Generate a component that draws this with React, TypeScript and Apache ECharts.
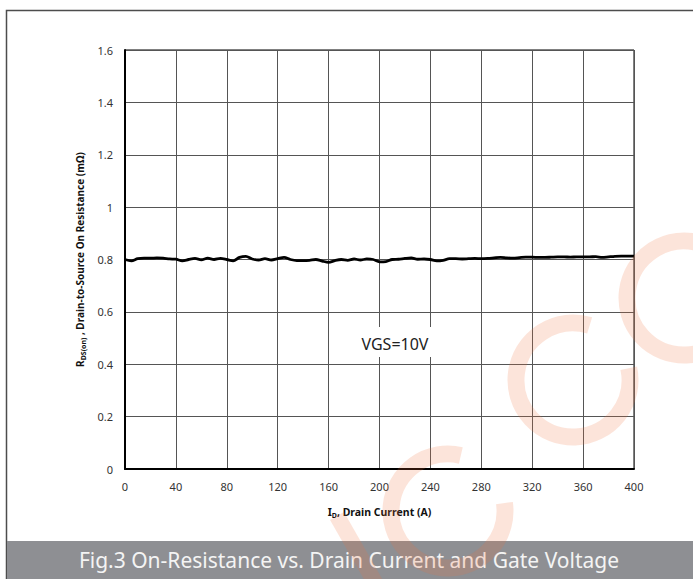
import React, { useEffect, useRef } from "react";
import * as echarts from "echarts";

const currents = [
  0, 5, 10, 15, 20, 25, 30, 35, 40, 45, 50, 55, 60, 65, 70, 75, 80, 85, 90, 95,
  100, 105, 110, 115, 120, 125, 130, 135, 140, 145, 150, 155, 160, 165, 170, 175,
  180, 185, 190, 195, 200, 205, 210, 215, 220, 225, 230, 235, 240, 245, 250, 255,
  260, 265, 270, 275, 280, 285, 290, 295, 300, 305, 310, 315, 320, 325, 330, 335,
  340, 345, 350, 355, 360, 365, 370, 375, 380, 385, 390, 395, 400,
];
const resistance = [
  0.8, 0.795, 0.803, 0.805, 0.805, 0.806, 0.805, 0.802, 0.801, 0.795, 0.8, 0.804,
  0.799, 0.805, 0.8, 0.804, 0.8, 0.795, 0.808, 0.812, 0.802, 0.798, 0.803, 0.798,
  0.803, 0.808, 0.8, 0.796, 0.796, 0.797, 0.8, 0.794, 0.789, 0.796, 0.8, 0.797,
  0.802, 0.798, 0.802, 0.8, 0.791, 0.792, 0.8, 0.801, 0.804, 0.806, 0.801, 0.802,
  0.8, 0.795, 0.797, 0.803, 0.803, 0.802, 0.803, 0.804, 0.803, 0.804, 0.806, 0.808,
  0.806, 0.805, 0.807, 0.809, 0.809, 0.808, 0.808, 0.809, 0.81, 0.81, 0.809, 0.81,
  0.81, 0.81, 0.811, 0.808, 0.81, 0.812, 0.813, 0.813, 0.813,
];
const xTicks = { min: 0, max: 400, interval: 40 };
const yTicks = { min: 0, max: 1.6, interval: 0.2 };
const annotation = "VGS=10V";
const caption = "Fig.3 On-Resistance vs. Drain Current and Gate Voltage";

const WM = "rgba(240,110,60,0.19)";
const deg = (d: number) => (d * Math.PI) / 180;

export default function App() {
  const ref = useRef<HTMLDivElement>(null);
  useEffect(() => {
    document.body.style.margin = "0";
    if (!ref.current) return;
    const chart = echarts.init(ref.current, undefined, { renderer: "svg" });
    const font = "Noto Sans";
    chart.setOption({
      animation: false,
      backgroundColor: "#fff",
      grid: {
        left: 125,
        top: 50,
        width: 509,
        height: 419,
        show: true,
        borderColor: "#000",
        borderWidth: 1,
      },
      xAxis: {
        type: "value",
        min: xTicks.min,
        max: xTicks.max,
        interval: xTicks.interval,
        axisLine: { show: true, onZero: false, lineStyle: { color: "#000", width: 2 } },
        axisTick: { show: false },
        splitLine: { show: true, lineStyle: { color: "#555", width: 1 } },
        axisLabel: { color: "#333", fontFamily: font, fontSize: 11, margin: 12 },
        name: "{b|I}{s|D}{b|, Drain Current (A)}",
        nameLocation: "middle",
        nameGap: 36,
        nameTextStyle: {
          rich: {
            b: { fontFamily: font, fontWeight: "bold", fontSize: 10.5, color: "#111", lineHeight: 14 },
            s: { fontFamily: font, fontWeight: "bold", fontSize: 7, color: "#111", lineHeight: 14, verticalAlign: "bottom", padding: [4, 0, 0, 0] },
          },
        },
      },
      yAxis: {
        type: "value",
        min: yTicks.min,
        max: yTicks.max,
        interval: yTicks.interval,
        axisLine: { show: true, onZero: false, lineStyle: { color: "#000", width: 2 } },
        axisTick: { show: false },
        splitLine: { show: true, lineStyle: { color: "#555", width: 1 } },
        axisLabel: { color: "#333", fontFamily: font, fontSize: 11, margin: 12 },
        name: "{b|R}{s|DS(on)}{b| , Drain-to-Source On Resistance (mΩ)}",
        nameLocation: "middle",
        nameGap: 38,
        nameTextStyle: {
          rich: {
            b: { fontFamily: font, fontWeight: "bold", fontSize: 10, color: "#111", lineHeight: 14 },
            s: { fontFamily: font, fontWeight: "bold", fontSize: 7, color: "#111", lineHeight: 14, verticalAlign: "bottom", padding: [4, 0, 0, 0] },
          },
        },
      },
      series: [
        {
          type: "line",
          data: currents.map((c, i) => [c, resistance[i]]),
          showSymbol: false,
          smooth: 0.3,
          lineStyle: { color: "#000", width: 2.8 },
          z: 3,
        },
      ],
      graphic: [
        {
          type: "rect",
          z: 1,
          shape: { x: 6.5, y: 10.5, width: 720, height: 620 },
          style: { fill: "none", stroke: "#4d4d4d", lineWidth: 1.5 },
        },
        {
          type: "rect",
          z: 10,
          shape: { x: 343, y: 327, width: 90, height: 30 },
          style: { fill: "#fff" },
        },
        {
          type: "text",
          z: 11,
          style: {
            text: annotation,
            x: 395,
            y: 344,
            align: "center",
            verticalAlign: "middle",
            fill: "#222",
            font: `16px "${font}"`,
          },
        },
        {
          type: "rect",
          z: 20,
          shape: { x: 7, y: 541, width: 690, height: 40 },
          style: { fill: "#8e8f93" },
        },
        {
          type: "text",
          z: 21,
          style: {
            text: caption,
            x: 349,
            y: 560,
            align: "center",
            verticalAlign: "middle",
            fill: "#f4f4f4",
            font: `21px "${font}"`,
          },
        },
        {
          type: "line",
          z: 100,
          shape: { x1: 337, y1: 516, x2: 385, y2: 600 },
          style: { stroke: WM, lineWidth: 16 },
        },
        {
          type: "arc",
          z: 100,
          shape: { cx: 448, cy: 511, r: 57, startAngle: deg(-8), endAngle: deg(283), clockwise: true },
          style: { stroke: WM, lineWidth: 17, fill: "none" },
        },
        {
          type: "arc",
          z: 100,
          shape: { cx: 573, cy: 380, r: 57, startAngle: deg(-12), endAngle: deg(287), clockwise: true },
          style: { stroke: WM, lineWidth: 17, fill: "none" },
        },
        {
          type: "arc",
          z: 100,
          shape: { cx: 684, cy: 298, r: 57, startAngle: deg(-12), endAngle: deg(287), clockwise: true },
          style: { stroke: WM, lineWidth: 17, fill: "none" },
        },
      ],
    });
    return () => chart.dispose();
  }, []);
  return <div ref={ref} style={{ width: 693, height: 579 }} />;
}
